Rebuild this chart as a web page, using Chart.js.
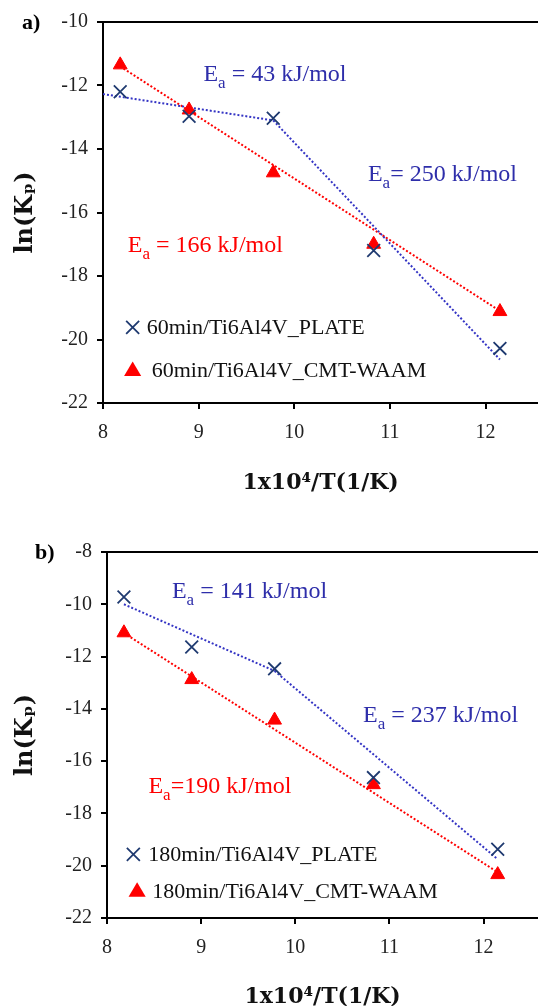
<!DOCTYPE html>
<html>
<head>
<meta charset="utf-8">
<script src="https://cdn.jsdelivr.net/npm/chart.js@4.4.0/dist/chart.umd.min.js"></script>
<style>
  html, body { margin: 0; padding: 0; background: #fff; overflow: hidden; }
  #wrap { position: relative; width: 538px; height: 1006px; overflow: hidden; }
  canvas { position: absolute; left: 0; }
  #chartA { top: 0; }
  #chartB { top: 505px; }
</style>
</head>
<body>
<div id="wrap">
  <!-- canvases are a bit wider than the page so the plot runs off the right edge like the original -->
  <canvas id="chartA" width="549" height="496"></canvas>
  <canvas id="chartB" width="549" height="505"></canvas>
</div>
<script>
// 1e4/T values (same five temperatures in both panels)
const invTemp = [8.18, 8.9, 9.78, 10.83, 12.15];

// panel a) 60 min
const plate60 = [-12.2, -12.97, -13.03, -17.2, -20.28];
const waam60 = [-11.35, -12.77, -14.75, -17.0, -19.12];
// panel b) 180 min
const plate180 = [-9.72, -11.63, -12.47, -16.63, -19.37];
const waam180 = [-11.09, -12.88, -14.43, -16.9, -20.34];

// dotted fit lines, end points
const plate60FitA = { x: [8.0, 9.78], y: [-12.27, -13.1] };
const plate60FitB = { x: [9.78, 12.15], y: [-13.1, -20.63] };
const waam60Fit = { x: [8.18, 12.15], y: [-11.4, -19.1] };
const plate180FitA = { x: [8.18, 9.78], y: [-10.0, -12.55] };
const plate180FitB = { x: [9.78, 12.15], y: [-12.55, -19.75] };
const waam180Fit = { x: [8.18, 12.15], y: [-11.1, -20.25] };

const xTitle = '1x10\u2074/T(1/K)';
const yTitle = 'ln(K\u209A)';

const NAVY = '#1f3a70';
const BLUE = '#2e2eaa';
const LINE_BLUE = '#3434c4';
const RED = '#ff0000';
const SERIF = '"Liberation Serif", "Times New Roman", serif';

const pts = (xs, ys) => xs.map((x, i) => ({ x: x, y: ys[i] }));

// E_a text with a subscript a
function drawEa(ctx, x, y, tail, color, size) {
  ctx.fillStyle = color;
  ctx.textBaseline = 'alphabetic';
  ctx.textAlign = 'left';
  ctx.font = size + 'px ' + SERIF;
  ctx.fillText('E', x, y);
  let w = ctx.measureText('E').width;
  ctx.font = Math.round(size * 0.7) + 'px ' + SERIF;
  ctx.fillText('a', x + w, y + size * 0.3);
  w += ctx.measureText('a').width;
  ctx.font = size + 'px ' + SERIF;
  ctx.fillText(tail, x + w, y);
}

function drawCross(ctx, cx, cy, r, color) {
  ctx.strokeStyle = color;
  ctx.lineWidth = 1.8;
  ctx.beginPath();
  ctx.moveTo(cx - r, cy - r); ctx.lineTo(cx + r, cy + r);
  ctx.moveTo(cx + r, cy - r); ctx.lineTo(cx - r, cy + r);
  ctx.stroke();
}

function drawTriangle(ctx, cx, cy, r, color) {
  ctx.fillStyle = color;
  ctx.beginPath();
  ctx.moveTo(cx, cy - r);
  ctx.lineTo(cx + r * 0.95, cy + r * 0.6);
  ctx.lineTo(cx - r * 0.95, cy + r * 0.6);
  ctx.closePath();
  ctx.fill();
}

const notesPlugin = {
  id: 'notes',
  afterDatasetsDraw(chart, args, opts) {
    const ctx = chart.ctx;
    const area = chart.chartArea;
    const xs = chart.scales.x;
    const ys = chart.scales.y;
    ctx.save();
    // top frame line
    ctx.strokeStyle = '#000';
    ctx.lineWidth = 2;
    ctx.beginPath();
    ctx.moveTo(area.left - 1, area.top);
    ctx.lineTo(area.right, area.top);
    ctx.stroke();

    // panel letter
    ctx.fillStyle = '#000';
    ctx.font = 'bold 22px ' + SERIF;
    ctx.textBaseline = 'middle';
    ctx.fillText(opts.panel, opts.panelX, area.top + 1);

    opts.notes.forEach(n => {
      drawEa(ctx, xs.getPixelForValue(n.x), ys.getPixelForValue(n.y), n.text, n.color, 24);
    });

    opts.legend.forEach(l => {
      const px = xs.getPixelForValue(l.x);
      const py = ys.getPixelForValue(l.y);
      if (l.kind === 'cross') drawCross(ctx, px, py, 6.5, NAVY);
      else drawTriangle(ctx, px, py, 9, RED);
      ctx.fillStyle = '#111';
      ctx.font = '22px ' + SERIF;
      ctx.textBaseline = 'middle';
      ctx.fillText(l.text, px + l.gap, py + 1);
    });
    ctx.restore();
  }
};

function buildChart(id, c) {
  const ctx = document.getElementById(id).getContext('2d');
  return new Chart(ctx, {
    type: 'scatter',
    data: {
      datasets: [
        {
          label: c.plateLabel,
          data: pts(invTemp, c.plate),
          pointStyle: 'crossRot',
          pointRadius: 9,
          borderColor: NAVY,
          borderWidth: 1.8,
          order: 1,
        },
        {
          label: c.waamLabel,
          data: pts(invTemp, c.waam),
          pointStyle: 'triangle',
          pointRadius: 8,
          backgroundColor: RED,
          borderColor: RED,
          borderWidth: 1,
          order: 1,
        },
        {
          data: pts(c.fitA.x, c.fitA.y),
          showLine: true, pointRadius: 0,
          borderColor: LINE_BLUE, borderWidth: 2, borderDash: [2, 2],
          order: 2,
        },
        {
          data: pts(c.fitB.x, c.fitB.y),
          showLine: true, pointRadius: 0,
          borderColor: LINE_BLUE, borderWidth: 2, borderDash: [2, 2],
          order: 2,
        },
        {
          data: pts(c.fitW.x, c.fitW.y),
          showLine: true, pointRadius: 0,
          borderColor: RED, borderWidth: 2, borderDash: [2, 2],
          order: 2,
        },
      ],
    },
    options: {
      responsive: false,
      animation: false,
      layout: { padding: { top: c.padTop, left: 0, right: 0, bottom: 0 } },
      plugins: {
        legend: { display: false },
        tooltip: { enabled: false },
        notes: c.notes,
      },
      scales: {
        x: {
          type: 'linear',
          min: 8,
          max: c.xMax,
          afterFit: s => { s.height = c.xH; },
          ticks: { stepSize: 1, includeBounds: false, padding: 12, color: '#222', maxRotation: 0, font: { family: SERIF, size: 20 } },
          grid: { drawOnChartArea: false, tickLength: 6, color: '#000', lineWidth: 2 },
          border: { color: '#000', width: 2 },
          title: { display: true, text: xTitle, color: '#111', padding: 0, font: { family: 'DejaVu Serif', size: 22, weight: 'bold' } },
        },
        y: {
          min: -22,
          max: c.yMax,
          afterFit: s => { s.width = c.yW; },
          ticks: { stepSize: 2, padding: 9, color: '#222', font: { family: SERIF, size: 20 } },
          grid: { drawOnChartArea: false, tickLength: 6, color: '#000', lineWidth: 2 },
          border: { color: '#000', width: 2 },
          title: { display: true, text: yTitle, color: '#111', padding: { top: 11, bottom: 0 }, font: { family: 'DejaVu Serif', size: 24, weight: 'bold' } },
        },
      },
    },
    plugins: [notesPlugin],
  });
}

buildChart('chartA', {
  plate: plate60, waam: waam60,
  fitA: plate60FitA, fitB: plate60FitB, fitW: waam60Fit,
  plateLabel: '60min/Ti6Al4V_PLATE', waamLabel: '60min/Ti6Al4V_CMT-WAAM',
  xMax: 12.55, yMax: -10, padTop: 22, xH: 93, yW: 103,
  notes: {
    panel: 'a)', panelX: 22,
    notes: [
      { x: 9.05, y: -11.86, text: ' = 43 kJ/mol', color: BLUE },
      { x: 10.77, y: -15.0, text: '= 250 kJ/mol', color: BLUE },
      { x: 8.26, y: -17.23, text: ' = 166 kJ/mol', color: RED },
    ],
    legend: [
      { kind: 'cross', x: 8.31, y: -19.62, gap: 14, text: '60min/Ti6Al4V_PLATE' },
      { kind: 'tri', x: 8.31, y: -20.98, gap: 19, text: '60min/Ti6Al4V_CMT-WAAM' },
    ],
  },
});

buildChart('chartB', {
  plate: plate180, waam: waam180,
  fitA: plate180FitA, fitB: plate180FitB, fitW: waam180Fit,
  plateLabel: '180min/Ti6Al4V_PLATE', waamLabel: '180min/Ti6Al4V_CMT-WAAM',
  xMax: 12.58, yMax: -8, padTop: 47, xH: 92, yW: 107,
  notes: {
    panel: 'b)', panelX: 35,
    notes: [
      { x: 8.69, y: -9.76, text: ' = 141 kJ/mol', color: BLUE },
      { x: 10.72, y: -14.49, text: ' = 237 kJ/mol', color: BLUE },
      { x: 8.44, y: -17.2, text: '=190 kJ/mol', color: RED },
    ],
    legend: [
      { kind: 'cross', x: 8.28, y: -19.57, gap: 15, text: '180min/Ti6Al4V_PLATE' },
      { kind: 'tri', x: 8.32, y: -20.98, gap: 15, text: '180min/Ti6Al4V_CMT-WAAM' },
    ],
  },
});
</script>
</body>
</html>
